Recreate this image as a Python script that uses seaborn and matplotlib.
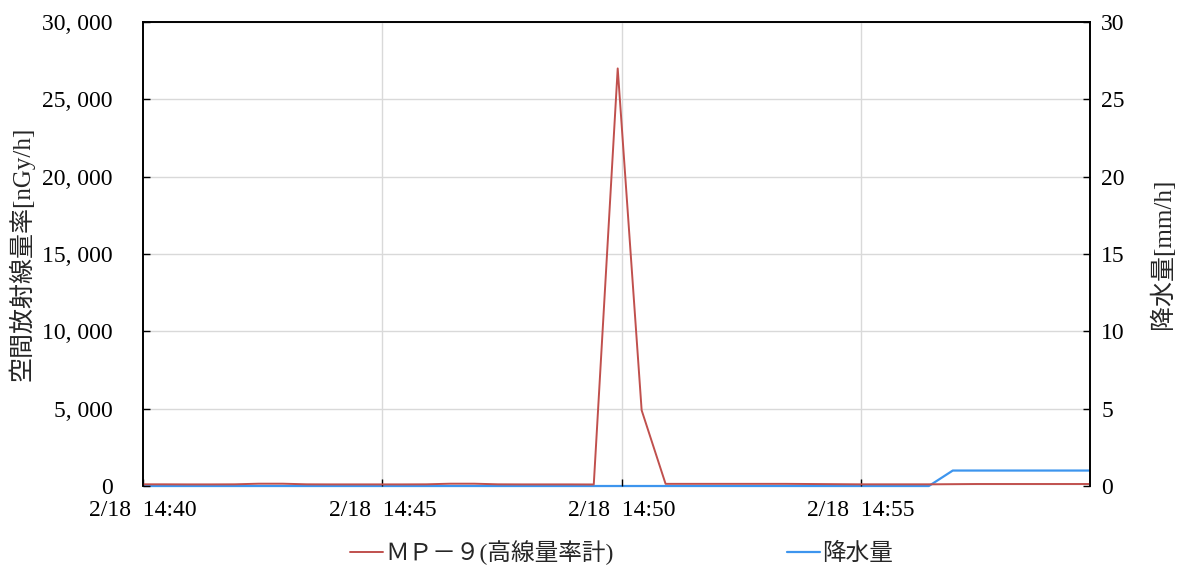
import numpy as np
import pandas as pd
import matplotlib
matplotlib.use("Agg")
import matplotlib.pyplot as plt
import matplotlib.dates as mdates
from matplotlib.ticker import FuncFormatter, MultipleLocator
from matplotlib.transforms import Bbox, TransformedBbox
import seaborn as sns

# 30-second samples on 2024-02-18
start_time = "2024-02-18 14:39:55"
n_points = 41

dose_rate = [110, 110, 105, 105, 110, 150, 150, 110, 105, 105,
             105, 105, 110, 150, 150, 110, 105, 105, 105, 100,
             27000, 4900, 140, 140, 140, 140, 140, 140, 130, 120,
             110, 110, 110, 110, 120, 130, 130, 130, 130, 130, 130]
rainfall = [0] * 34 + [1] * 7

dose_label = "ＭＰ－９(高線量率計)"
rain_label = "降水量"
left_ylabel = "空間放射線量率[nGy/h]"
right_ylabel = "降水量[mm/h]"

times = pd.date_range(start_time, periods=n_points, freq="30s")
df = pd.DataFrame({"time": times, "dose": dose_rate, "rain": rainfall})

sns.set_theme(style="white")
plt.rcParams["font.family"] = ["Liberation Serif", "Noto Sans CJK JP", "DejaVu Sans"]

fig = plt.figure(figsize=(11.84, 5.65), dpi=100)
ax = fig.add_axes([0.1208, 0.1398, 0.7998, 0.8212])
ax2 = ax.twinx()
ax.set_zorder(2)
ax.patch.set_visible(False)
ax2.set_zorder(1)

red = "#C0504D"
blue = "#3D95EE"

sns.lineplot(data=df, x="time", y="dose", ax=ax, color=red, lw=1.4,
             label=dose_label, legend=False)
sns.lineplot(data=df, x="time", y="rain", ax=ax2, color=blue, lw=1.6,
             label=rain_label, legend=False)
# let the zero-level rainfall line show fully along the bottom edge
clip = TransformedBbox(Bbox([[0, -0.02], [1, 1]]), ax2.transAxes)
for ln in ax2.get_lines():
    ln.set_clip_box(clip)

x0 = pd.Timestamp("2024-02-18 14:40:00")
x1 = pd.Timestamp("2024-02-18 14:59:47")
ax.set_xlim(x0, x1)
ax2.set_xlim(x0, x1)
ax.set_ylim(0, 30000)
ax2.set_ylim(0, 30)

ax.xaxis.set_major_locator(mdates.MinuteLocator(byminute=[40, 45, 50, 55]))
ax.xaxis.set_major_formatter(mdates.DateFormatter("2/18  %H:%M"))
ax.yaxis.set_major_locator(MultipleLocator(5000))
ax.yaxis.set_major_formatter(FuncFormatter(lambda v, p: f"{int(v):,}".replace(",", ", ")))
ax2.yaxis.set_major_locator(MultipleLocator(5))

# horizontal and vertical grid under both series
ax.grid(False)
ax2.grid(True, axis="y", color="#d9d9d9", lw=1.0)
ax2.set_axisbelow(True)
for t in mdates.date2num([pd.Timestamp("2024-02-18 14:45"), pd.Timestamp("2024-02-18 14:50"),
                          pd.Timestamp("2024-02-18 14:55")]):
    ax2.axvline(t, color="#d9d9d9", lw=1.0, zorder=0)

for a in (ax, ax2):
    for s in a.spines.values():
        s.set_color("black")
        s.set_linewidth(1.2)
    a.spines["bottom"].set_visible(False)

ax.tick_params(axis="y", direction="in", length=5, width=1, colors="black",
               labelsize=17, pad=22, left=True)
ax.tick_params(axis="x", direction="in", length=5, width=1, colors="black",
               labelsize=17, pad=10, bottom=True)
ax2.tick_params(axis="y", direction="in", length=5, width=1, colors="black",
                labelsize=17, pad=8, right=True)

ax.set_xlabel("")
ax.set_ylabel(left_ylabel, fontsize=18, labelpad=5)
ax2.set_ylabel(right_ylabel, fontsize=18, labelpad=18)

handles = ax.get_lines()[:1] + ax2.get_lines()[:1]
fig.legend(handles, [dose_label, rain_label], loc="lower center",
           bbox_to_anchor=(0.525, -0.038), ncol=2, frameon=False,
           fontsize=17, handlelength=1.4, handletextpad=0.1, columnspacing=7.3)

fig.savefig("out.png", dpi=100)
